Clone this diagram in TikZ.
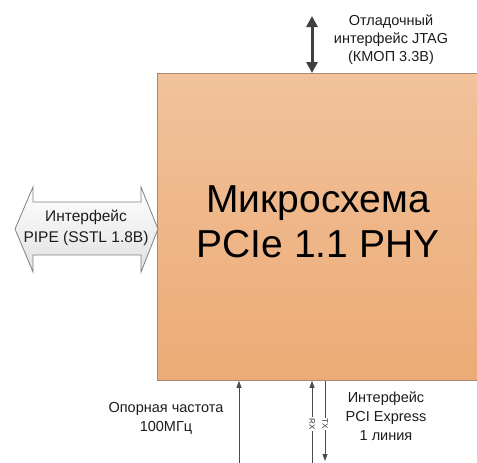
\documentclass[tikz,border=0pt]{standalone}
\usepackage{fontspec}
\setmainfont{Liberation Sans}
\usetikzlibrary{arrows.meta,calc}
\definecolor{chiptop}{HTML}{F1C29B}
\definecolor{chipbot}{HTML}{ECAB76}
\definecolor{chipline}{HTML}{A88A72}
\definecolor{txt}{HTML}{1C1C1C}
\tikzset{
  lbl/.style={font=\fontsize{14.5}{19}\selectfont, text=txt, align=center, inner sep=0pt},
  thin arrow/.style={draw=black!70, line width=0.8pt, -{Triangle[width=5pt,length=7pt]}},
  rot lbl/.style={font=\fontsize{8}{9}\selectfont, text=black!80, fill=white, inner sep=1pt, rotate=-90}
}
\begin{document}
\begin{tikzpicture}[x=1pt,y=-1pt]
\useasboundingbox (0,0) rectangle (477,463);
% main chip
\node[draw=chipline, line width=0.8pt, top color=chiptop, bottom color=chipbot,
      minimum width=330pt, minimum height=307pt, anchor=north west, inner sep=0pt]
      (chip) at (157,73) {};
\node[font=\fontsize{39}{45}\selectfont, text=black, align=center, inner sep=0pt] (title) at (318,221.5)
      {Микросхема\\PCIe 1.1 PHY};
% JTAG
\coordinate (jtagtop) at (312,16);
\draw[line width=3pt, draw=black!75, {Triangle[width=11pt,length=11pt]}-{Triangle[width=11pt,length=11pt]}]
      (jtagtop) -- (jtagtop |- chip.north);
\node[lbl, font=\fontsize{14.5}{18}\selectfont] (jtag) at (391,40) {Отладочный\\интерфейс JTAG\\(КМОП 3.3В)};
% PIPE double arrow
\path[draw=black!50, line width=0.8pt, top color=white, bottom color=black!12]
  (15,229) -- (33,187) -- (33,202) -- (141,202) -- (141,187) -- (158,229)
  -- (141,272) -- (141,255) -- (33,255) -- (33,272) -- cycle;
\node[lbl, font=\fontsize{15.5}{21}\selectfont] (pipe) at (86,228) {Интерфейс\\PIPE (SSTL 1.8В)};
% bottom: reference clock
\coordinate (clk) at (239,463);
\draw[thin arrow] (clk) -- (clk |- chip.south);
\node[lbl] (clklbl) at (166,418) {Опорная частота\\100МГц};
% RX / TX
\coordinate (rx) at (312,463);
\coordinate (txend) at (325,461);
\draw[thin arrow] (rx) -- (rx |- chip.south);
\draw[thin arrow] (txend |- chip.south) -- (txend);
\node[rot lbl] (rxl) at (312,424) {RX};
\node[rot lbl] (txl) at (325,424) {TX};
\node[lbl] (pcie) at (386,416) {Интерфейс\\PCI Express\\1 линия};
\end{tikzpicture}
\end{document}
